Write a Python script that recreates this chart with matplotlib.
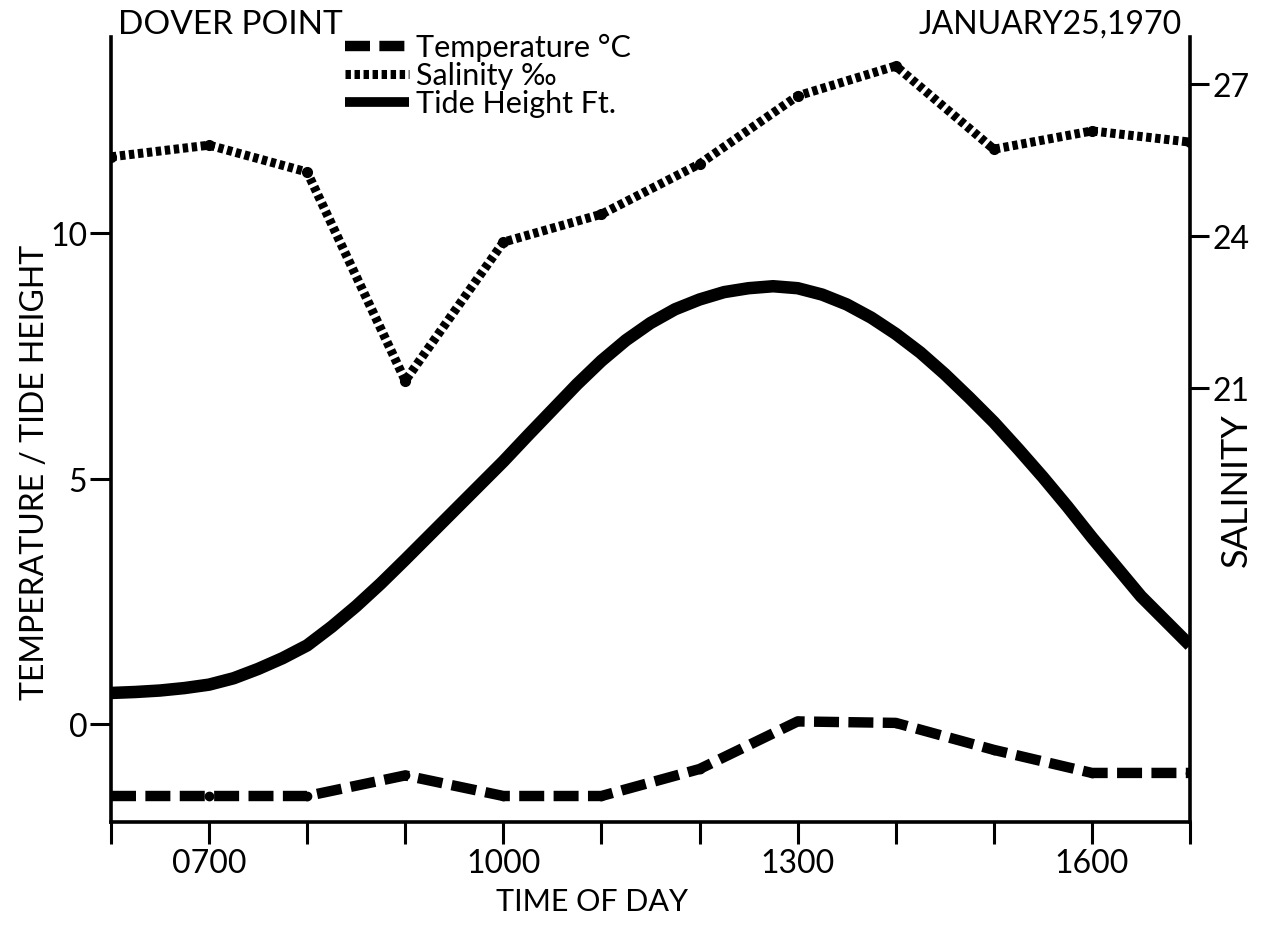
import matplotlib
matplotlib.use("Agg")
import matplotlib.pyplot as plt
from matplotlib.lines import Line2D

plt.rcParams['font.family'] = ['Lato', 'DejaVu Sans']

# Hourly observations (hours of the day)
hours = [6, 7, 8, 9, 10, 11, 12, 13, 14, 15, 16, 17]
salinity = [25.56, 25.79, 25.26, 21.15, 23.88, 24.43, 25.42, 26.76, 27.35, 25.71, 26.07, 25.85]
temperature = [-1.47, -1.47, -1.47, -1.05, -1.47, -1.47, -0.92, 0.05, 0.02, -0.53, -1.0, -1.0]

# Tide readings every quarter hour
tide_hours = [6.0, 6.25, 6.5, 6.75, 7.0, 7.25, 7.5, 7.75, 8.0, 8.25, 8.5, 8.75,
              9.0, 9.25, 9.5, 9.75, 10.0, 10.25, 10.5, 10.75, 11.0, 11.25, 11.5, 11.75,
              12.0, 12.25, 12.5, 12.75, 13.0, 13.25, 13.5, 13.75, 14.0, 14.25, 14.5, 14.75,
              15.0, 15.25, 15.5, 15.75, 16.0, 16.25, 16.5, 16.75, 17.0]
tide_height = [0.63, 0.65, 0.68, 0.73, 0.8, 0.93, 1.12, 1.34, 1.6, 1.98, 2.4, 2.86,
               3.35, 3.85, 4.35, 4.85, 5.35, 5.88, 6.4, 6.92, 7.4, 7.82, 8.17, 8.45,
               8.65, 8.8, 8.88, 8.92, 8.88, 8.75, 8.55, 8.28, 7.95, 7.57, 7.13, 6.65,
               6.15, 5.6, 5.03, 4.43, 3.8, 3.2, 2.6, 2.1, 1.6]

xtick_labels = {7: "0700", 10: "1000", 13: "1300", 16: "1600"}
left_ticks = [0, 5, 10]
right_ticks = [21, 24, 27]

W, H = 1265, 928
fig = plt.figure(figsize=(W / 100, H / 100), dpi=100)
ax = fig.add_axes([111 / W, (H - 823) / H, (1190 - 111) / W, (823 - 38) / H])
ax2 = ax.twinx()

spine_w = 2.6
ax.set_xlim(6, 17)
ax.set_ylim(-2, 14)
ax2.set_ylim(12.46, 27.92)

for a in (ax, ax2):
    a.spines['top'].set_visible(False)
    for s in ('left', 'right', 'bottom'):
        a.spines[s].set_linewidth(spine_w)
ax.spines['right'].set_visible(False)
ax2.spines['left'].set_visible(False)
ax2.spines['bottom'].set_visible(False)

tick_fs = 23
ax.set_xticks(hours)
ax.set_xticklabels([xtick_labels.get(h, "") for h in hours])
ax.tick_params(axis='x', direction='out', length=16, width=2.2, labelsize=tick_fs, pad=3)
ax.set_yticks(left_ticks)
ax.tick_params(axis='y', direction='out', length=15, width=2.2, labelsize=tick_fs, pad=2)
ax2.set_yticks(right_ticks)
ax2.tick_params(axis='y', direction='out', length=14, width=2.2, labelsize=tick_fs, pad=2)

# Tide height: heavy solid curve
tide_style = dict(color='black', lw=9, solid_capstyle='butt', solid_joinstyle='round')
ax.plot(tide_hours, tide_height, **tide_style, zorder=3)

# Temperature: long heavy dashes with dots at readings
temp_style = dict(color='black', lw=7.5, dashes=(2.4, 0.9), dash_capstyle='butt')
ax.plot(hours, temperature, **temp_style, zorder=3)
ax.plot(hours, temperature, 'o', color='black', ms=6, zorder=4)

# Salinity: short ladder-like dashes with dots at readings
sal_style = dict(color='black', lw=6.5, dashes=(0.6, 0.4), dash_capstyle='butt')
ax2.plot(hours, salinity, **sal_style, zorder=3)
ax2.plot(hours, salinity, 'o', color='black', ms=7, zorder=4)

for a in (ax, ax2):
    a.set_facecolor('none')

# Legend
handles = [Line2D([], [], **temp_style),
           Line2D([], [], **sal_style),
           Line2D([], [], color='black', lw=7, solid_capstyle='butt')]
labels = ["Temperature °C", "Salinity ‰", "Tide Height Ft."]
fig.legend(handles, labels, loc='upper left', bbox_to_anchor=(330 / W, 1 - 19 / H),
           frameon=False, fontsize=22, handlelength=2.1, handletextpad=0.2,
           labelspacing=0.0, borderpad=0.0)

# Titles and axis labels
fig.text(118 / W, 1 - 34 / H, "DOVER POINT", fontsize=24, ha='left', va='baseline')
fig.text(1182 / W, 1 - 34 / H, "JANUARY25,1970", fontsize=23, ha='right', va='baseline')
fig.text(592 / W, 1 - 911 / H, "TIME OF DAY", fontsize=22, ha='center', va='baseline')
fig.text(35 / W, 1 - 472 / H, "TEMPERATURE / TIDE HEIGHT", fontsize=23, rotation=90,
         ha='center', va='center')
fig.text(1236 / W, 1 - 490 / H, "SALINITY", fontsize=26, rotation=90,
         ha='center', va='center')

fig.savefig("out.png", dpi=100, facecolor='white')
